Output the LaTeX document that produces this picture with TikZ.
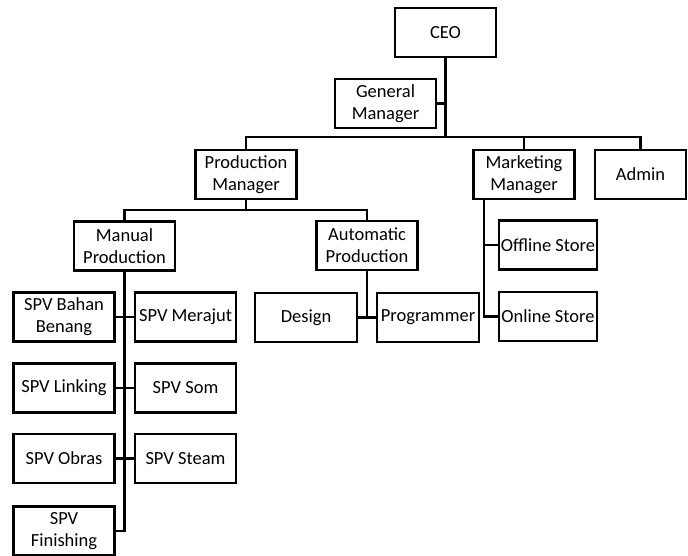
\documentclass[tikz,border=0pt]{standalone}
\usepackage{fontspec}
\setmainfont{Carlito}
\usepackage{tikz}
\usetikzlibrary{positioning,calc}

\begin{document}
\begin{tikzpicture}[x=1pt,y=-1pt,
  every node/.style={font=\fontsize{18.5}{22}\selectfont},
  bx/.style={draw=black,line width=2.3pt,align=center,inner sep=2pt,minimum width=101pt,minimum height=49pt},
  ln/.style={black,line width=2.8pt}]
\useasboundingbox (0,0) rectangle (688,556);
% top levels
\node[bx] (ceo) at (445.5,32.5) {CEO};
\node[bx] (gm) at (385.5,103.5) {General\\Manager};
\node[bx] (pm) at (246,174.5) {Production\\Manager};
\node[bx] (mm) at (524,174.5) {Marketing\\Manager};
\node[bx,minimum width=91pt] (admin) at (640.5,174.5) {Admin};
% production
\node[bx] (manual) at (124.5,246) {Manual\\Production};
\node[bx] (auto) at (367,245.5) {Automatic\\Production};
\node[bx,minimum width=102pt] (design) at (306,317.5) {Design};
\node[bx,minimum width=102pt] (prog) at (428,317.5) {Programmer};
% marketing
\node[bx,minimum width=98pt] (offline) at (548,245) {Offline Store};
\node[bx,minimum width=98pt] (online) at (548,316.5) {Online Store};
% supervisors
\node[bx] (bahan) at (64,317) {SPV Bahan\\Benang};
\node[bx] (merajut) at (185.5,317) {SPV Merajut};
\node[bx] (linking) at (64,388) {SPV Linking};
\node[bx] (som) at (185.5,388) {SPV Som};
\node[bx] (obras) at (64,458.5) {SPV Obras};
\node[bx] (steam) at (185.5,458.5) {SPV Steam};
\node[bx] (finishing) at (64,531) {SPV\\Finishing};
% connectors
\coordinate (j0) at (445.5,137);
\coordinate (j1) at (246,210);
\coordinate (mt) at ([xshift=-40pt]mm.south);
\draw[ln] (ceo.south) -- (j0);
\draw[ln] (gm.east) -- (gm.east -| j0);
\draw[ln] (pm.north) |- (j0) -| (admin.north);
\draw[ln] (mm.north) -- (mm.north |- j0);
\draw[ln] (pm.south) -- (j1);
\draw[ln] (manual.north) |- (j1) -| (auto.north);
\draw[ln] (auto.south) -- (auto.south |- design.east);
\draw[ln] (design.east) -- (prog.west);
\draw[ln] (mt) |- (online.west);
\draw[ln] (mt |- offline.west) -- (offline.west);
\draw[ln] (manual.south) |- (finishing.east);
\draw[ln] (bahan.east) -- (merajut.west);
\draw[ln] (linking.east) -- (som.west);
\draw[ln] (obras.east) -- (steam.west);
\end{tikzpicture}
\end{document}
